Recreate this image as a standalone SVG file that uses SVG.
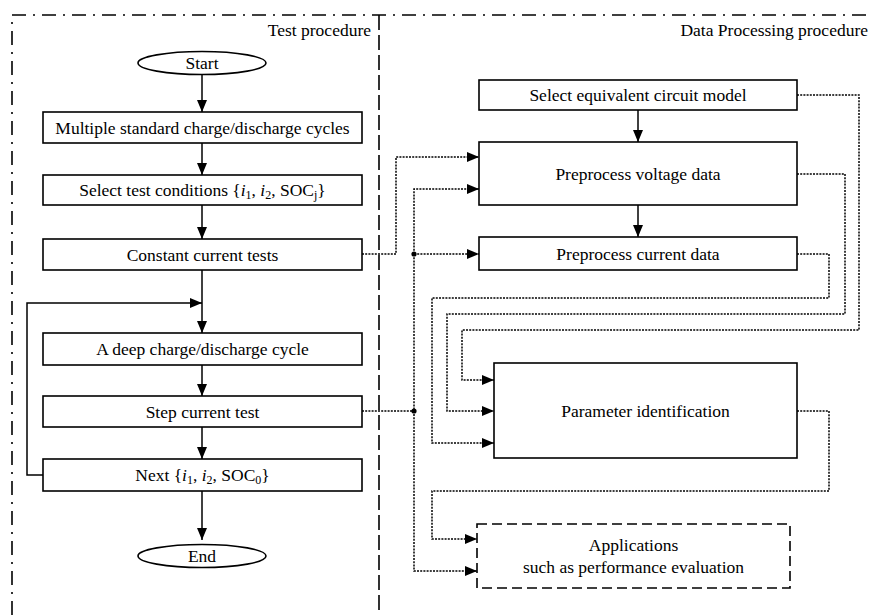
<svg xmlns="http://www.w3.org/2000/svg" width="871" height="615" viewBox="0 0 871 615">
<style>
text{font-family:"Liberation Serif","Times New Roman",serif;font-size:17.5px;fill:#000}
.c{text-anchor:middle}
.r{text-anchor:end}
.box{fill:#fff;stroke:#000;stroke-width:1.6}
.frame{fill:none;stroke:#000;stroke-width:1.6;stroke-dasharray:14 7 2 7}
.div{fill:none;stroke:#000;stroke-width:1.6;stroke-dasharray:15 5}
.solid{fill:none;stroke:#000;stroke-width:1.5}
.dot{fill:none;stroke:#000;stroke-width:1.5;stroke-dasharray:2 1.2}
.sub{font-size:12px}
</style>
<defs>
<marker id="ah" markerUnits="userSpaceOnUse" markerWidth="12" markerHeight="10" refX="12" refY="5" orient="auto">
<path d="M0,0 L12,5 L0,10 z" fill="#000"/>
</marker>
</defs>
<rect width="871" height="615" fill="#fff"/>
<g id="frame">
<path class="frame" d="M12,615 V15 H871"/>
<path class="div" d="M379,15 V615"/>
<text class="r" x="371" y="36">Test procedure</text>
<text class="r" x="868" y="36">Data Processing procedure</text>
</g>
<g id="connectors">
<path class="solid" d="M202,75 V112" marker-end="url(#ah)"/>
<path class="solid" d="M202,143 V175" marker-end="url(#ah)"/>
<path class="solid" d="M202,205 V239" marker-end="url(#ah)"/>
<path class="solid" d="M202,270 V333" marker-end="url(#ah)"/>
<path class="solid" d="M202,365 V396" marker-end="url(#ah)"/>
<path class="solid" d="M202,427 V459" marker-end="url(#ah)"/>
<path class="solid" d="M202,491 V540" marker-end="url(#ah)"/>
<path class="solid" d="M43,475 H27 V303 H202" marker-end="url(#ah)"/>
<path class="solid" d="M638,110 V142" marker-end="url(#ah)"/>
<path class="solid" d="M638,205 V237" marker-end="url(#ah)"/>
<path class="dot" d="M362,254 H396 V157 H479" marker-end="url(#ah)"/>
<path class="dot" d="M414,254 V189 H479" marker-end="url(#ah)"/>
<path class="dot" d="M414,254 H479" marker-end="url(#ah)"/>
<path class="dot" d="M362,411 H414"/>
<path class="dot" d="M414,254 V571 H477" marker-end="url(#ah)"/>
<circle cx="414" cy="254" r="2.6" fill="#000"/>
<circle cx="414" cy="411" r="2.6" fill="#000"/>
<path class="dot" d="M797,95 H859 V330 H462 V380 H494" marker-end="url(#ah)"/>
<path class="dot" d="M797,174 H845 V314 H447 V411 H494" marker-end="url(#ah)"/>
<path class="dot" d="M797,254 H829 V298 H432 V443 H494" marker-end="url(#ah)"/>
<path class="dot" d="M797,411 H829 V491 H432 V539 H477" marker-end="url(#ah)"/>
</g>
<g id="start">
<ellipse class="box" cx="202" cy="63" rx="64" ry="11.5"/>
<text class="c" x="202" y="69">Start</text>
</g>
<g id="multiple">
<rect class="box" x="43" y="112" width="319" height="31"/>
<text class="c" x="202.5" y="133.5">Multiple standard charge/discharge cycles</text>
</g>
<g id="select-test">
<rect class="box" x="43" y="175" width="319" height="30"/>
<text class="c" x="202.5" y="196">Select test conditions {<tspan font-style="italic">i</tspan><tspan class="sub" dy="3">1</tspan><tspan dy="-3">, </tspan><tspan font-style="italic">i</tspan><tspan class="sub" dy="3">2</tspan><tspan dy="-3">, SOC</tspan><tspan class="sub" dy="3">j</tspan><tspan dy="-3">}</tspan></text>
</g>
<g id="constant">
<rect class="box" x="43" y="239" width="319" height="31"/>
<text class="c" x="202.5" y="260.5">Constant current tests</text>
</g>
<g id="deep">
<rect class="box" x="43" y="333" width="319" height="32"/>
<text class="c" x="202.5" y="355">A deep charge/discharge cycle</text>
</g>
<g id="step">
<rect class="box" x="43" y="396" width="319" height="31"/>
<text class="c" x="202.5" y="417.5">Step current test</text>
</g>
<g id="next">
<rect class="box" x="43" y="459" width="319" height="32"/>
<text class="c" x="202.5" y="481">Next {<tspan font-style="italic">i</tspan><tspan class="sub" dy="3">1</tspan><tspan dy="-3">, </tspan><tspan font-style="italic">i</tspan><tspan class="sub" dy="3">2</tspan><tspan dy="-3">, SOC</tspan><tspan class="sub" dy="3">0</tspan><tspan dy="-3">}</tspan></text>
</g>
<g id="end">
<ellipse class="box" cx="202" cy="556" rx="64" ry="11.5"/>
<text class="c" x="202" y="562">End</text>
</g>
<g id="select-model">
<rect class="box" x="479" y="80" width="318" height="30"/>
<text class="c" x="638" y="101">Select equivalent circuit model</text>
</g>
<g id="voltage">
<rect class="box" x="479" y="142" width="318" height="63"/>
<text class="c" x="638" y="179.5">Preprocess voltage data</text>
</g>
<g id="current">
<rect class="box" x="479" y="237" width="318" height="33"/>
<text class="c" x="638" y="259.5">Preprocess current data</text>
</g>
<g id="parameter">
<rect class="box" x="494" y="363" width="303" height="95"/>
<text class="c" x="645.5" y="416.5">Parameter identification</text>
</g>
<g id="applications">
<rect x="477" y="524" width="313" height="64" fill="#fff" stroke="#000" stroke-width="1.6" stroke-dasharray="10 5"/>
<text class="c" x="633.5" y="551">Applications</text>
<text class="c" x="633.5" y="573">such as performance evaluation</text>
</g>
</svg>
